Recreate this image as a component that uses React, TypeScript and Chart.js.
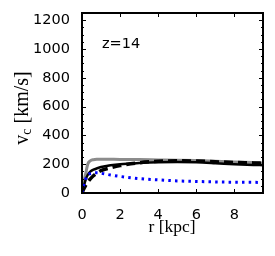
import React, { useEffect, useRef } from "react";
import { Chart, registerables } from "chart.js";

Chart.register(...registerables);

const radius = [0, 0.1, 0.2, 0.3, 0.45, 0.6, 0.8, 1, 1.5, 2, 3, 4, 5, 6, 7, 8, 9, 9.5];
const vGray = [0, 80, 139, 200, 225, 231, 234, 235, 234, 233, 232, 230, 228, 225, 220, 215, 211, 208];
const vSolid = [0, 50, 95, 125, 150, 162, 172, 180, 192, 200, 208, 213, 215, 213, 207, 200, 195, 193];
const vDashed = [0, 30, 55, 75, 100, 120, 140, 155, 175, 190, 210, 220, 224, 222, 217, 212, 209, 207];
const vBlue = [0, 60, 100, 125, 135, 139, 140, 137, 125, 115, 100, 91, 84, 80, 77, 75, 74, 73];
const xTicks = [0, 2, 4, 6, 8];
const yMajor = [0, 200, 400, 600, 800, 1000, 1200];
const yMinorStep = 50;
const xMax = 9.5;
const yMax = 1250;
const annotation = "z=14";

const pts = (ys: number[]) => radius.map((x, i) => ({ x, y: ys[i] }));

const framePlugin = {
  id: "frame",
  afterDraw(chart: any) {
    const { ctx, chartArea } = chart;
    const { left, right, top, bottom } = chartArea;
    const xs = chart.scales.x;
    const ys = chart.scales.y;
    ctx.save();
    ctx.strokeStyle = "#000";
    ctx.lineWidth = 1;
    for (const t of xTicks) {
      const px = Math.round(xs.getPixelForValue(t)) + 0.5;
      ctx.beginPath();
      ctx.moveTo(px, bottom);
      ctx.lineTo(px, bottom - 4);
      ctx.moveTo(px, top);
      ctx.lineTo(px, top + 4);
      ctx.stroke();
    }
    for (let v = 0; v <= yMax; v += yMinorStep) {
      const py = Math.round(ys.getPixelForValue(v)) + 0.5;
      const len = v % 200 === 0 ? 4 : 2;
      ctx.beginPath();
      ctx.moveTo(left, py);
      ctx.lineTo(left + len, py);
      ctx.moveTo(right, py);
      ctx.lineTo(right - len, py);
      ctx.stroke();
    }
    ctx.lineWidth = 2;
    ctx.strokeRect(left, top, right - left, bottom - top);

    ctx.fillStyle = "#000";
    ctx.font = "14.5px 'DejaVu Sans'";
    ctx.textBaseline = "middle";
    ctx.textAlign = "left";
    ctx.fillText(annotation, 102, 44);

    ctx.font = "17.5px 'Liberation Serif'";
    ctx.textAlign = "center";
    ctx.fillText("r [kpc]", 172, 227);

    ctx.translate(23, 108);
    ctx.rotate(-Math.PI / 2);
    ctx.textAlign = "left";
    const big = "20px 'Liberation Serif'";
    const small = "14px 'Liberation Serif'";
    ctx.font = big;
    const wV = ctx.measureText("v").width;
    const wRest = ctx.measureText(" [km/s]").width;
    ctx.font = small;
    const wC = ctx.measureText("c").width;
    const total = wV + wC + wRest;
    let x0 = -total / 2;
    ctx.font = big;
    ctx.fillText("v", x0, 0);
    x0 += wV;
    ctx.font = small;
    ctx.fillText("c", x0, 4);
    x0 += wC;
    ctx.font = big;
    ctx.fillText(" [km/s]", x0, 0);
    ctx.restore();
  },
};

export default function App() {
  const ref = useRef<HTMLCanvasElement | null>(null);
  useEffect(() => {
    document.body.style.margin = "0";
    if (!ref.current) return;
    const chart = new Chart(ref.current, {
      type: "line",
      data: {
        datasets: [
          {
            data: pts(vBlue),
            borderColor: "#0000ff",
            borderWidth: 3,
            borderDash: [2.5, 4.2],
            borderCapStyle: "butt",
            pointRadius: 0,
            cubicInterpolationMode: "monotone",
            order: 0,
          },
          {
            data: pts(vDashed),
            borderColor: "#000",
            borderWidth: 3.5,
            borderDash: [9, 5],
            pointRadius: 0,
            cubicInterpolationMode: "monotone",
            order: 1,
          },
          {
            data: pts(vSolid),
            borderColor: "#000",
            borderWidth: 2.5,
            pointRadius: 0,
            cubicInterpolationMode: "monotone",
            order: 2,
          },
          {
            data: pts(vGray),
            borderColor: "#8c8c8c",
            borderWidth: 3,
            pointRadius: 0,
            cubicInterpolationMode: "monotone",
            order: 3,
          },
        ],
      },
      options: {
        animation: false,
        responsive: false,
        events: [],
        layout: { padding: { left: 0, right: 12, top: 13, bottom: 0 } },
        plugins: { legend: { display: false }, tooltip: { enabled: false } },
        scales: {
          x: {
            type: "linear",
            min: 0,
            max: xMax,
            grid: { display: false },
            border: { display: false },
            afterBuildTicks: (s: any) => {
              s.ticks = xTicks.map((v) => ({ value: v }));
            },
            afterFit: (s: any) => {
              s.height = 63;
            },
            ticks: {
              color: "#000",
              padding: 6,
              font: { family: "'DejaVu Sans'", size: 14.5 },
              maxRotation: 0,
              autoSkip: false,
              callback: (v: any) => String(v),
            },
          },
          y: {
            type: "linear",
            min: 0,
            max: yMax,
            grid: { display: false },
            border: { display: false },
            afterBuildTicks: (s: any) => {
              s.ticks = yMajor.map((v) => ({ value: v }));
            },
            afterFit: (s: any) => {
              s.width = 82;
            },
            ticks: {
              color: "#000",
              padding: 4,
              font: { family: "'DejaVu Sans'", size: 14.5 },
              autoSkip: false,
              callback: (v: any) => String(v),
            },
          },
        },
      },
      plugins: [framePlugin],
    });
    return () => chart.destroy();
  }, []);
  return (
    <div style={{ position: "absolute", left: 0, top: 0, width: 275, height: 256 }}>
      <canvas ref={ref} width={275} height={256} style={{ width: 275, height: 256 }} />
    </div>
  );
}
